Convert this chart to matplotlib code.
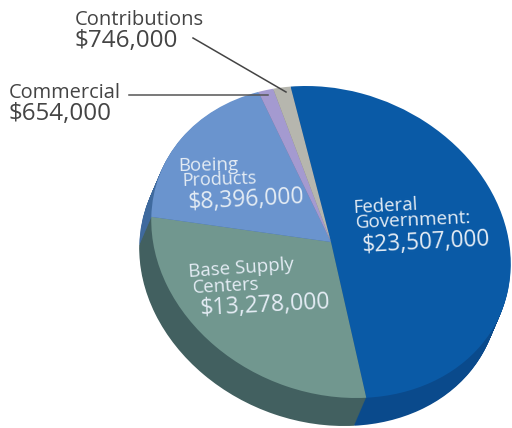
"""
funding sources pie, tilted 3d look
"""

import matplotlib

matplotlib.use("Agg")
import matplotlib.pyplot as plt
from matplotlib.transforms import Affine2D

plt.rcParams["font.family"] = ["Open Sans", "DejaVu Sans"]

# clockwise from the top
sources = ["Federal Government", "Base Supply Centers", "Boeing Products", "Commercial", "Contributions"]
amounts = [23507000, 13278000, 8396000, 654000, 746000]
top_colors = ["#0A5AA6", "#71978F", "#6A94CE", "#A49AD0", "#B6B6AE"]
side_colors = ["#0A4A8C", "#426060", "#3F6A9E", "#6F6A94", "#7F7F7A"]


def draw_pie(ax, colors, shift_x, shift_y, z):
    wedges, _ = ax.pie(amounts, colors=colors, startangle=95, counterclock=False, radius=1, center=(0, 0))
    # squash and shear the unit circle into the tilted ellipse
    tr = Affine2D.from_values(178, 0, -25, -156, 331 + shift_x, 242 + shift_y) + ax.transData
    for w in wedges:
        w.set_transform(tr)
        w.set_zorder(z)
        w.set_linewidth(0)


fig = plt.figure(figsize=(5.12, 4.28), dpi=100)
ax = fig.add_axes([0, 0, 1, 1])

# side of the pie, stacked copies
for i in range(28, 0, -1):
    draw_pie(ax, side_colors, -12 * i / 28, i, 1)
draw_pie(ax, top_colors, 0, 0, 2)

ax.set_aspect("auto")
ax.set_xlim(0, 512)
ax.set_ylim(428, 0)
ax.axis("off")

# leader lines
ax.plot([193, 286], [38, 92], color="#444444", lw=1.1, zorder=3)
ax.plot([129, 268], [95, 95], color="#555555", lw=1.1, zorder=3)

dark = "#444444"
ax.text(75, 25, "Contributions", color=dark, fontsize=14.5, zorder=4)
ax.text(74, 47, "$746,000", color=dark, fontsize=17.5, zorder=4)
ax.text(9, 98, "Commercial", color=dark, fontsize=14.4, zorder=4)
ax.text(9, 120, "$654,000", color=dark, fontsize=17.4, zorder=4)

light = "#E4ECF4"
opts = dict(color=light, rotation_mode="anchor", zorder=4)
ax.text(178, 171, "Boeing", fontsize=13.5, rotation=1, **opts)
ax.text(182, 186, "Products", fontsize=13, rotation=2, **opts)
ax.text(188, 209, "$8,396,000", fontsize=16.5, rotation=3, **opts)

ax.text(189, 277, "Base Supply", fontsize=13.5, rotation=4, **opts)
ax.text(193, 293, "Centers", fontsize=13.3, rotation=3, **opts)
ax.text(200, 315, "$13,278,000", fontsize=16.6, rotation=3, **opts)

ax.text(353, 213, "Federal", fontsize=13.4, rotation=3, **opts)
ax.text(356, 228, "Government:", fontsize=13.6, rotation=2.5, **opts)
ax.text(362, 252, "$23,507,000", fontsize=16.3, rotation=3, **opts)

fig.savefig("out.png", dpi=100)
